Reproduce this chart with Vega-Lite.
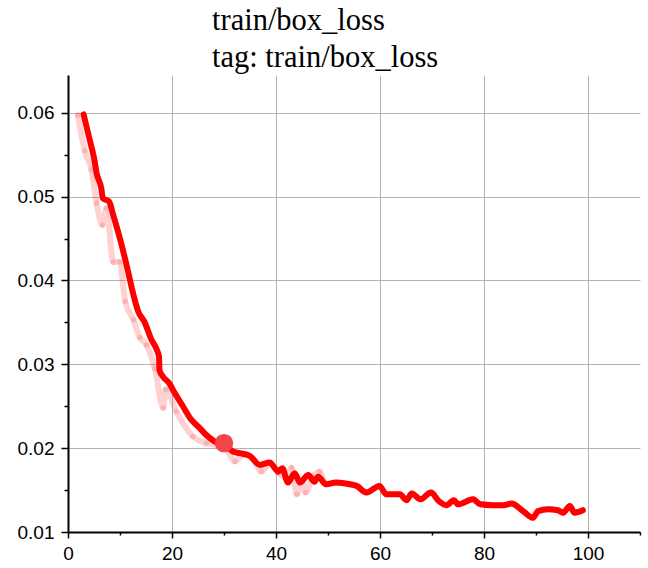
{
  "$schema": "https://vega.github.io/schema/vega-lite/v6.json",
  "autosize": "none",
  "padding": {"left": 68, "top": 75, "right": 8, "bottom": 36},
  "width": 572,
  "height": 457,
  "background": "white",
  "title": {
    "text": ["train/box_loss", "tag: train/box_loss"],
    "anchor": "start",
    "frame": "group",
    "dx": 144,
    "font": "Liberation Serif",
    "fontSize": 30.5,
    "fontWeight": "normal",
    "color": "black",
    "lineHeight": 37,
    "offset": 2
  },
  "config": {
    "view": {"stroke": null},
    "axis": {
      "labelFont": "Liberation Sans",
      "labelFontSize": 19,
      "labelColor": "black",
      "domainColor": "black",
      "domainWidth": 2,
      "tickColor": "black",
      "tickWidth": 1.5,
      "gridColor": "#b4b4b4",
      "gridWidth": 1,
      "labelFlush": false,
      "labelOverlap": false,
      "title": null
    }
  },
  "datasets": {
    "smooth": [
      {"epoch": 3.0, "loss": 0.0598},
      {"epoch": 4.2, "loss": 0.0567},
      {"epoch": 5.1, "loss": 0.0543},
      {"epoch": 5.5, "loss": 0.0528},
      {"epoch": 6.4, "loss": 0.0510},
      {"epoch": 6.7, "loss": 0.0498},
      {"epoch": 7.9, "loss": 0.0494},
      {"epoch": 8.7, "loss": 0.0478},
      {"epoch": 9.9, "loss": 0.0452},
      {"epoch": 11.2, "loss": 0.0420},
      {"epoch": 12.5, "loss": 0.0385},
      {"epoch": 13.5, "loss": 0.0363},
      {"epoch": 14.75, "loss": 0.0350},
      {"epoch": 16.0, "loss": 0.0330},
      {"epoch": 17.1, "loss": 0.0317},
      {"epoch": 17.5, "loss": 0.0309},
      {"epoch": 17.6, "loss": 0.0293},
      {"epoch": 18.3, "loss": 0.0285},
      {"epoch": 19.4, "loss": 0.0278},
      {"epoch": 20.5, "loss": 0.0266},
      {"epoch": 22.1, "loss": 0.0250},
      {"epoch": 23.7, "loss": 0.0234},
      {"epoch": 25.0, "loss": 0.0226},
      {"epoch": 26.9, "loss": 0.0214},
      {"epoch": 28.5, "loss": 0.0207},
      {"epoch": 30.0, "loss": 0.0205},
      {"epoch": 31.7, "loss": 0.0196},
      {"epoch": 33.0, "loss": 0.0194},
      {"epoch": 34.9, "loss": 0.0191},
      {"epoch": 36.9, "loss": 0.0180},
      {"epoch": 38.8, "loss": 0.0183},
      {"epoch": 39.8, "loss": 0.0176},
      {"epoch": 40.4, "loss": 0.0172},
      {"epoch": 41.2, "loss": 0.0176},
      {"epoch": 42.3, "loss": 0.0159},
      {"epoch": 43.6, "loss": 0.0170},
      {"epoch": 44.6, "loss": 0.0159},
      {"epoch": 46.2, "loss": 0.0168},
      {"epoch": 47.4, "loss": 0.0160},
      {"epoch": 48.1, "loss": 0.0166},
      {"epoch": 49.6, "loss": 0.0157},
      {"epoch": 51.6, "loss": 0.0159},
      {"epoch": 54.2, "loss": 0.0157},
      {"epoch": 55.5, "loss": 0.0155},
      {"epoch": 57.4, "loss": 0.0147},
      {"epoch": 59.9, "loss": 0.0155},
      {"epoch": 61.2, "loss": 0.0145},
      {"epoch": 63.8, "loss": 0.0145},
      {"epoch": 65.1, "loss": 0.0138},
      {"epoch": 66.1, "loss": 0.0146},
      {"epoch": 67.8, "loss": 0.0139},
      {"epoch": 69.8, "loss": 0.0147},
      {"epoch": 71.3, "loss": 0.0137},
      {"epoch": 72.8, "loss": 0.0132},
      {"epoch": 74.2, "loss": 0.0138},
      {"epoch": 75.0, "loss": 0.0133},
      {"epoch": 77.9, "loss": 0.0139},
      {"epoch": 79.3, "loss": 0.0133},
      {"epoch": 81.7, "loss": 0.0132},
      {"epoch": 83.7, "loss": 0.0132},
      {"epoch": 85.3, "loss": 0.0134},
      {"epoch": 87.5, "loss": 0.0125},
      {"epoch": 89.4, "loss": 0.0117},
      {"epoch": 90.4, "loss": 0.0125},
      {"epoch": 92.3, "loss": 0.0127},
      {"epoch": 94.2, "loss": 0.0126},
      {"epoch": 95.2, "loss": 0.0123},
      {"epoch": 96.5, "loss": 0.0131},
      {"epoch": 97.4, "loss": 0.0123},
      {"epoch": 99.0, "loss": 0.0126}
    ],
    "raw": [
      {"epoch": 1.9, "loss": 0.0597},
      {"epoch": 3.2, "loss": 0.0555},
      {"epoch": 4.5, "loss": 0.0532},
      {"epoch": 5.5, "loss": 0.0492},
      {"epoch": 6.6, "loss": 0.0466},
      {"epoch": 7.4, "loss": 0.0486},
      {"epoch": 8.7, "loss": 0.0422},
      {"epoch": 9.9, "loss": 0.0422},
      {"epoch": 11.0, "loss": 0.0375},
      {"epoch": 12.6, "loss": 0.0353},
      {"epoch": 13.8, "loss": 0.0332},
      {"epoch": 15.1, "loss": 0.0323},
      {"epoch": 16.7, "loss": 0.0295},
      {"epoch": 18.3, "loss": 0.0248},
      {"epoch": 18.8, "loss": 0.0270},
      {"epoch": 20.8, "loss": 0.0244},
      {"epoch": 24.0, "loss": 0.0214},
      {"epoch": 26.6, "loss": 0.0206},
      {"epoch": 29.2, "loss": 0.0202},
      {"epoch": 30.5, "loss": 0.0198},
      {"epoch": 32.1, "loss": 0.0184},
      {"epoch": 33.7, "loss": 0.0192},
      {"epoch": 35.5, "loss": 0.0188},
      {"epoch": 37.2, "loss": 0.0172},
      {"epoch": 38.8, "loss": 0.0182},
      {"epoch": 40.5, "loss": 0.0170},
      {"epoch": 42.0, "loss": 0.0165},
      {"epoch": 43.0, "loss": 0.0177},
      {"epoch": 44.0, "loss": 0.0145},
      {"epoch": 45.0, "loss": 0.0160},
      {"epoch": 45.7, "loss": 0.0147},
      {"epoch": 47.0, "loss": 0.0165},
      {"epoch": 48.4, "loss": 0.0172},
      {"epoch": 49.6, "loss": 0.0157},
      {"epoch": 51.6, "loss": 0.0159},
      {"epoch": 54.2, "loss": 0.0157},
      {"epoch": 55.5, "loss": 0.0155},
      {"epoch": 57.4, "loss": 0.0147},
      {"epoch": 59.9, "loss": 0.0155},
      {"epoch": 61.2, "loss": 0.0145},
      {"epoch": 63.8, "loss": 0.0145},
      {"epoch": 65.1, "loss": 0.0138},
      {"epoch": 66.1, "loss": 0.0146},
      {"epoch": 67.8, "loss": 0.0139},
      {"epoch": 69.8, "loss": 0.0147},
      {"epoch": 71.3, "loss": 0.0137},
      {"epoch": 72.8, "loss": 0.0132},
      {"epoch": 74.2, "loss": 0.0138},
      {"epoch": 75.0, "loss": 0.0133},
      {"epoch": 77.9, "loss": 0.0139},
      {"epoch": 79.3, "loss": 0.0133},
      {"epoch": 81.7, "loss": 0.0132},
      {"epoch": 83.7, "loss": 0.0132},
      {"epoch": 85.3, "loss": 0.0134},
      {"epoch": 87.5, "loss": 0.0125},
      {"epoch": 89.4, "loss": 0.0117},
      {"epoch": 90.4, "loss": 0.0125},
      {"epoch": 92.3, "loss": 0.0127},
      {"epoch": 94.2, "loss": 0.0126},
      {"epoch": 95.2, "loss": 0.0123},
      {"epoch": 96.5, "loss": 0.0131},
      {"epoch": 97.4, "loss": 0.0123},
      {"epoch": 99.0, "loss": 0.0126}
    ],
    "marker": [
      {"epoch": 30.0, "loss": 0.0206}
    ]
  },
  "encoding": {
    "x": {
      "field": "epoch",
      "type": "quantitative",
      "scale": {"domain": [0, 110], "nice": false, "zero": false},
      "axis": {
        "values": [0, 10, 20, 30, 40, 50, 60, 70, 80, 90, 100, 110],
        "labelExpr": "datum.value % 20 === 0 ? datum.label : ''",
        "tickSize": {"condition": {"test": "datum.value % 20 === 0", "value": 6}, "value": 3},
        "gridOpacity": {"condition": {"test": "datum.value % 20 === 0", "value": 1}, "value": 0},
        "grid": true,
        "labelPadding": 6
      }
    },
    "y": {
      "field": "loss",
      "type": "quantitative",
      "scale": {"domain": [0.01, 0.0645], "nice": false, "zero": false},
      "axis": {
        "values": [0.01, 0.015, 0.02, 0.025, 0.03, 0.035, 0.04, 0.045, 0.05, 0.055, 0.06],
        "format": ".2f",
        "labelExpr": "round(datum.value * 1000) % 10 === 0 ? datum.label : ''",
        "tickSize": {"condition": {"test": "round(datum.value * 1000) % 10 === 0", "value": 7}, "value": 4},
        "gridOpacity": {"condition": {"test": "round(datum.value * 1000) % 10 === 0", "value": 1}, "value": 0},
        "grid": true,
        "labelPadding": 7
      }
    }
  },
  "layer": [
    {
      "data": {"name": "raw"},
      "mark": {"type": "line", "color": "#ff0000", "strokeWidth": 6, "opacity": 0.18, "strokeCap": "round", "strokeJoin": "round", "interpolate": "monotone"}
    },
    {
      "data": {"name": "raw"},
      "mark": {"type": "point", "filled": true, "color": "#ff0000", "size": 30, "opacity": 0.15}
    },
    {
      "data": {"name": "smooth"},
      "mark": {"type": "line", "color": "#ff0000", "strokeWidth": 6, "strokeCap": "round", "strokeJoin": "round", "interpolate": "monotone"}
    },
    {
      "data": {"name": "marker"},
      "mark": {"type": "point", "filled": true, "color": "#f34449", "size": 340, "opacity": 1}
    }
  ]
}
